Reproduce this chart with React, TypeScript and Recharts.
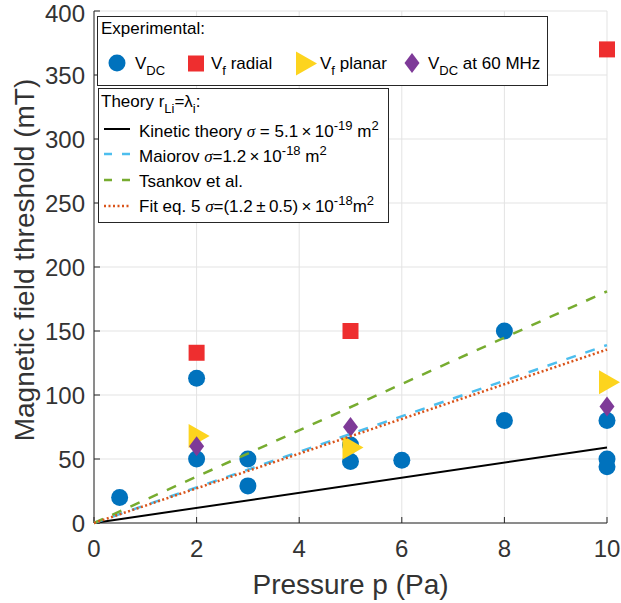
import React from "react";
import {
  ComposedChart,
  Scatter,
  Line,
  XAxis,
  YAxis,
  CartesianGrid,
} from "recharts";

// experimental points
const vdcPressure = [0.5, 2, 2, 3, 3, 5, 5, 6, 8, 8, 10, 10, 10];
const vdcField = [20, 113, 50, 50, 29, 48, 61, 49, 150, 80, 80, 50, 44];
const radialPressure = [2, 5, 10];
const radialField = [133, 150, 370];
const planarPressure = [2, 5, 10];
const planarField = [68, 59, 110];
const mhzPressure = [2, 5, 10];
const mhzField = [60, 75, 91];

// theory lines
const linePressure = [0, 10];
const kineticField = [0, 59];
const maiorovField = [0, 139];
const tsankovField = [0, 181];
const fitField = [0, 135.5];

const xTicks = [0, 2, 4, 6, 8, 10];
const yTicks = [0, 50, 100, 150, 200, 250, 300, 350, 400];

const zip = (xs: number[], ys: number[]) => xs.map((x, i) => ({ x, y: ys[i] }));

const FONT = "'Liberation Sans', Arial, Helvetica, sans-serif";
const SERIF = "'Liberation Serif', 'Times New Roman', serif";
const AXIS = "#262626";
const TXT = "#333333";

const BLUE = "#0072BD";
const RED = "#EE2E2F";
const YELLOW = "#FDD41E";
const PURPLE = "#7E3A98";
const CYAN = "#4DBEEE";
const GREEN = "#77AC30";
const ORANGE = "#D95319";

const circleShape = (p: any) => <circle cx={p.cx} cy={p.cy} r={8.5} fill={BLUE} />;
const squareShape = (p: any) => <rect x={p.cx - 8} y={p.cy - 8} width={16} height={16} fill={RED} />;
const triShape = (p: any) => (
  <polygon
    points={`${p.cx - 8},${p.cy - 12} ${p.cx + 13},${p.cy} ${p.cx - 8},${p.cy + 12}`}
    fill={YELLOW}
  />
);
const diamondShape = (p: any) => (
  <polygon
    points={`${p.cx},${p.cy - 10} ${p.cx + 7.5},${p.cy} ${p.cx},${p.cy + 10} ${p.cx - 7.5},${p.cy}`}
    fill={PURPLE}
  />
);

const noLabel = () => <g />;

type Seg = [string, "n" | "sub" | "sup" | "sig"];

// text with sub/superscripts, using dy offsets
function Rich({ x, y, segs }: { x: number; y: number; segs: Seg[] }) {
  let cur = 0;
  return (
    <text x={x} y={y} fontSize={17} fill="#000">
      {segs.map(([t, kind], i) => {
        const target = kind === "sub" ? 6 : kind === "sup" ? -7 : 0;
        const dy = target - cur;
        cur = target;
        return (
          <tspan
            key={i}
            dy={dy}
            fontSize={kind === "sub" || kind === "sup" ? 13 : 17}
            fontFamily={kind === "sig" ? SERIF : undefined}
            fontStyle={kind === "sig" ? "italic" : undefined}
          >
            {t}
          </tspan>
        );
      })}
    </text>
  );
}

function Legends() {
  return (
    <svg
      width={621}
      height={603}
      style={{ position: "absolute", left: 0, top: 0, pointerEvents: "none" }}
      fontFamily={FONT}
    >
      {/* axis titles */}
      <text x={350.5} y={594} textAnchor="middle" fontSize={28} fill={TXT}>
        Pressure p (Pa)
      </text>
      <text
        transform="translate(33.5,260) rotate(-90)"
        textAnchor="middle"
        fontSize={28}
        fill={TXT}
      >
        Magnetic field threshold (mT)
      </text>

      {/* experimental legend */}
      <rect x={97.5} y={16.5} width={450} height={69} fill="#fff" stroke={AXIS} strokeWidth={1} />
      <text x={101} y={34} fontSize={17} fill="#000">Experimental:</text>
      <circle cx={117} cy={63} r={8.5} fill={BLUE} />
      <Rich x={135} y={69} segs={[["V", "n"], ["DC", "sub"]]} />
      <rect x={188} y={55.5} width={16} height={16} fill={RED} />
      <Rich x={211} y={69} segs={[["V", "n"], ["f", "sub"], [" radial", "n"]]} />
      <polygon points="296,51.5 317,63.5 296,75.5" fill={YELLOW} />
      <Rich x={320} y={69} segs={[["V", "n"], ["f", "sub"], [" planar", "n"]]} />
      <polygon points="412,53 419.5,63 412,73 404.5,63" fill={PURPLE} />
      <Rich x={428} y={69} segs={[["V", "n"], ["DC", "sub"], [" at 60 MHz", "n"]]} />

      {/* theory legend */}
      <rect x={98.5} y={88.5} width={290} height={134} fill="#fff" stroke={AXIS} strokeWidth={1} />
      <Rich x={101} y={107} segs={[["Theory r", "n"], ["Li", "sub"], ["=λ", "n"], ["i", "sub"], [":", "n"]]} />
      <line x1={104} x2={130} y1={129} y2={129} stroke="#000" strokeWidth={2} />
      <Rich
        x={139}
        y={137}
        segs={[
          ["Kinetic theory ", "n"],
          ["σ", "sig"],
          [" = 5.1\u2009×\u200910", "n"],
          ["-19", "sup"],
          [" m", "n"],
          ["2", "sup"],
        ]}
      />
      <line x1={104} x2={130} y1={154} y2={154} stroke={CYAN} strokeWidth={2.5} strokeDasharray="8 10" />
      <Rich
        x={139}
        y={162}
        segs={[
          ["Maiorov ", "n"],
          ["σ", "sig"],
          ["=1.2\u2009×\u200910", "n"],
          ["-18", "sup"],
          [" m", "n"],
          ["2", "sup"],
        ]}
      />
      <line x1={104} x2={130} y1={180} y2={180} stroke={GREEN} strokeWidth={2.5} strokeDasharray="8 10" />
      <Rich x={139} y={187} segs={[["Tsankov et al.", "n"]]} />
      <line x1={104} x2={130} y1={206} y2={206} stroke={ORANGE} strokeWidth={2.5} strokeDasharray="2 2.5" />
      <Rich
        x={139}
        y={212}
        segs={[
          ["Fit eq. 5 ", "n"],
          ["σ", "sig"],
          ["=(1.2\u2009±\u20090.5)\u2009×\u200910", "n"],
          ["-18", "sup"],
          ["m", "n"],
          ["2", "sup"],
        ]}
      />
    </svg>
  );
}

export default function App() {
  return (
    <div style={{ position: "absolute", left: 0, top: 0, width: 621, height: 603, background: "#fff" }}>
      <ComposedChart
        width={621}
        height={603}
        margin={{ top: 11, right: 14, bottom: 0, left: 0 }}
        style={{ fontFamily: FONT }}
      >
        <CartesianGrid stroke="#e3e3e3" strokeWidth={1} />
        <XAxis
          type="number"
          dataKey="x"
          domain={[0, 10]}
          ticks={xTicks}
          height={80}
          stroke={AXIS}
          tickSize={-6}
          tickMargin={23}
          tick={{ fill: TXT, fontSize: 24 }}
        />
        <XAxis
          xAxisId="top"
          orientation="top"
          type="number"
          dataKey="x"
          domain={[0, 10]}
          ticks={xTicks}
          height={0}
          stroke={AXIS}
          tickSize={-6}
          tick={noLabel}
        />
        <YAxis
          type="number"
          dataKey="y"
          domain={[0, 400]}
          ticks={yTicks}
          width={94}
          stroke={AXIS}
          tickSize={-6}
          tickMargin={15}
          tick={{ fill: TXT, fontSize: 24 }}
        />
        <YAxis
          yAxisId="right"
          orientation="right"
          type="number"
          dataKey="y"
          domain={[0, 400]}
          ticks={yTicks}
          width={0}
          stroke={AXIS}
          tickSize={-6}
          tick={noLabel}
        />

        <Scatter data={zip(vdcPressure, vdcField)} shape={circleShape} isAnimationActive={false} />
        <Scatter data={zip(radialPressure, radialField)} shape={squareShape} isAnimationActive={false} />
        <Scatter data={zip(planarPressure, planarField)} shape={triShape} isAnimationActive={false} />
        <Scatter data={zip(mhzPressure, mhzField)} shape={diamondShape} isAnimationActive={false} />

        <Line
          data={zip(linePressure, kineticField)}
          dataKey="y"
          stroke="#000"
          strokeWidth={2}
          dot={false}
          activeDot={false}
          isAnimationActive={false}
          zIndex={700}
        />
        <Line
          data={zip(linePressure, maiorovField)}
          dataKey="y"
          stroke={CYAN}
          strokeWidth={2.5}
          strokeDasharray="10 10"
          dot={false}
          activeDot={false}
          isAnimationActive={false}
          zIndex={700}
        />
        <Line
          data={zip(linePressure, tsankovField)}
          dataKey="y"
          stroke={GREEN}
          strokeWidth={2.5}
          strokeDasharray="10 10"
          dot={false}
          activeDot={false}
          isAnimationActive={false}
          zIndex={700}
        />
        <Line
          data={zip(linePressure, fitField)}
          dataKey="y"
          stroke={ORANGE}
          strokeWidth={2.5}
          strokeDasharray="2 2.5"
          dot={false}
          activeDot={false}
          isAnimationActive={false}
          zIndex={700}
        />
      </ComposedChart>
      <Legends />
    </div>
  );
}
